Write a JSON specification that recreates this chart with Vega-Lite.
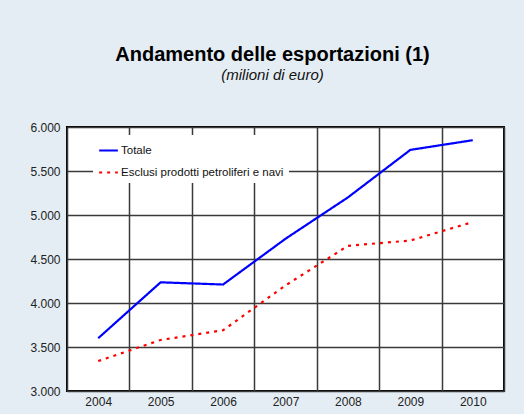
{
  "$schema": "https://vega.github.io/schema/vega-lite/v6.json",
  "autosize": "none",
  "width": 437,
  "height": 264,
  "padding": {"left": 67, "top": 127, "right": 20, "bottom": 23},
  "background": "#e5edf4",
  "config": {
    "font": "Liberation Sans",
    "locale": {"number": {"decimal": ",", "thousands": ".", "grouping": [3], "currency": ["€", ""]}},
    "view": {"fill": "white", "stroke": "black", "strokeWidth": 2}
  },
  "title": {
    "text": "Andamento delle esportazioni (1)",
    "subtitle": "(milioni di euro)",
    "fontSize": 20,
    "fontWeight": "bold",
    "color": "black",
    "subtitleFontSize": 15,
    "subtitleFontStyle": "italic",
    "subtitleColor": "#111",
    "subtitlePadding": 3,
    "anchor": "middle",
    "dx": -13,
    "offset": 38
  },
  "data": {
    "values": [
      {"anno": "2004", "serie": "Totale", "valore": 3600},
      {"anno": "2005", "serie": "Totale", "valore": 4235},
      {"anno": "2006", "serie": "Totale", "valore": 4210},
      {"anno": "2007", "serie": "Totale", "valore": 4730},
      {"anno": "2008", "serie": "Totale", "valore": 5200},
      {"anno": "2009", "serie": "Totale", "valore": 5740},
      {"anno": "2010", "serie": "Totale", "valore": 5850},
      {"anno": "2004", "serie": "Esclusi prodotti petroliferi e navi", "valore": 3340},
      {"anno": "2005", "serie": "Esclusi prodotti petroliferi e navi", "valore": 3580},
      {"anno": "2006", "serie": "Esclusi prodotti petroliferi e navi", "valore": 3690},
      {"anno": "2007", "serie": "Esclusi prodotti petroliferi e navi", "valore": 4200},
      {"anno": "2008", "serie": "Esclusi prodotti petroliferi e navi", "valore": 4650},
      {"anno": "2009", "serie": "Esclusi prodotti petroliferi e navi", "valore": 4710},
      {"anno": "2010", "serie": "Esclusi prodotti petroliferi e navi", "valore": 4920}
    ]
  },
  "mark": {"type": "line", "strokeWidth": 2.2},
  "encoding": {
    "x": {
      "field": "anno",
      "type": "ordinal",
      "bandPosition": 0.5,
      "scale": {"type": "band", "paddingInner": 0, "paddingOuter": 0},
      "axis": {
        "title": null,
        "labelAngle": 0,
        "tickBand": "extent",
        "grid": true,
        "gridColor": "#3a3a3a",
        "gridWidth": 1.5,
        "gridOpacity": 1,
        "domain": false,
        "ticks": false,
        "labelFontSize": 12,
        "labelColor": "#222",
        "labelPadding": 5
      }
    },
    "y": {
      "field": "valore",
      "type": "quantitative",
      "scale": {"domain": [3000, 6000], "nice": false},
      "axis": {
        "title": null,
        "values": [3000, 3500, 4000, 4500, 5000, 5500, 6000],
        "format": ",d",
        "grid": true,
        "gridColor": "#3a3a3a",
        "gridWidth": 1.5,
        "gridOpacity": 1,
        "domain": false,
        "ticks": false,
        "labelFontSize": 12,
        "labelColor": "#222",
        "labelPadding": 7
      }
    },
    "color": {
      "field": "serie",
      "type": "nominal",
      "scale": {"domain": ["Totale", "Esclusi prodotti petroliferi e navi"], "range": ["#0000ff", "#ff0000"]},
      "legend": {
        "title": null,
        "orient": "none",
        "legendX": 26,
        "legendY": 8,
        "fillColor": "white",
        "padding": 5,
        "symbolType": "stroke",
        "symbolStrokeWidth": 2,
        "symbolSize": 350,
        "labelFontSize": 11.5,
        "labelLimit": 400,
        "labelColor": "#111",
        "labelOffset": 2,
        "rowPadding": 6
      }
    },
    "strokeDash": {
      "field": "serie",
      "type": "nominal",
      "scale": {"domain": ["Totale", "Esclusi prodotti petroliferi e navi"], "range": [[1, 0], [3, 5]]},
      "legend": {
        "title": null,
        "orient": "none",
        "legendX": 26,
        "legendY": 8,
        "labelLimit": 400
      }
    }
  }
}
